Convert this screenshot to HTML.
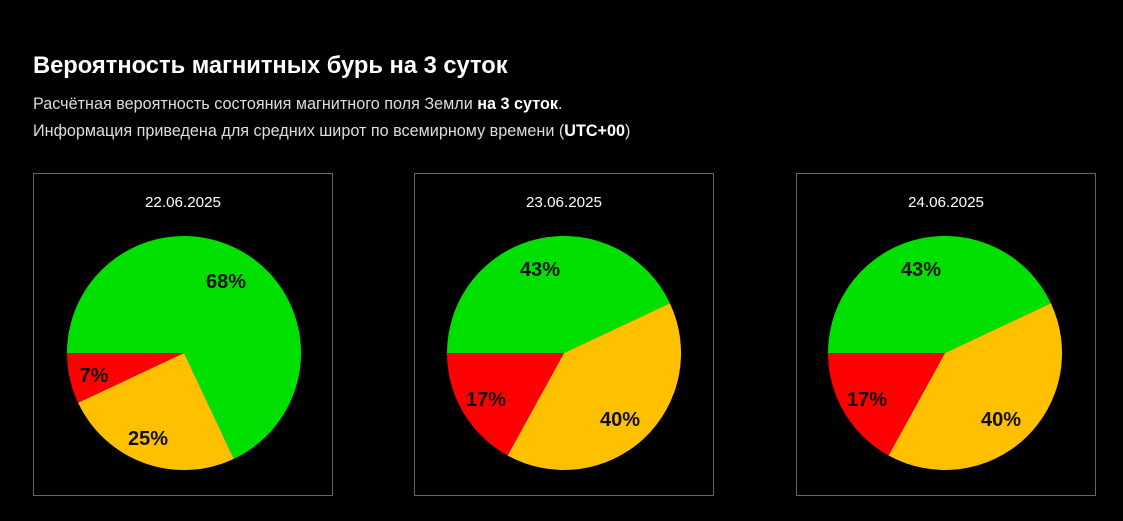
<!DOCTYPE html>
<html><head><meta charset="utf-8"><style>
html,body{margin:0;padding:0;background:#000;width:1123px;height:521px;overflow:hidden;font-family:"Liberation Sans",Arial,sans-serif;color:#fff}
</style></head><body>
<svg width="1123" height="521" xmlns="http://www.w3.org/2000/svg" font-family="Liberation Sans, Arial, sans-serif">
<text x="33" y="73" font-size="23.7" font-weight="bold" fill="#fff">Вероятность магнитных бурь на 3 суток</text>
<text x="33" y="109" font-size="16.2" fill="#ddd">Расчётная вероятность состояния магнитного поля Земли <tspan font-weight="bold" fill="#fff">на 3 суток</tspan>.</text>
<text x="33" y="136" font-size="16.2" fill="#ddd">Информация приведена для средних широт по всемирному времени (<tspan font-weight="bold" fill="#fff">UTC+00</tspan>)</text>

<rect x="33.5" y="173.5" width="299" height="322" fill="none" stroke="#666"/>
<rect x="414.5" y="173.5" width="299" height="322" fill="none" stroke="#666"/>
<rect x="796.5" y="173.5" width="299" height="322" fill="none" stroke="#666"/>

<g font-size="15.2" fill="#fff" text-anchor="middle">
<text x="183" y="207">22.06.2025</text>
<text x="564" y="207">23.06.2025</text>
<text x="946" y="207">24.06.2025</text>
</g>

<g transform="translate(184,353)">
<path d="M0 0 L-117 0 A117 117 0 1 1 49.8 105.9 Z" fill="#00e000"/>
<path d="M0 0 L49.8 105.9 A117 117 0 0 1 -105.9 49.8 Z" fill="#ffc000"/>
<path d="M0 0 L-105.9 49.8 A117 117 0 0 1 -117 0 Z" fill="#ff0000"/>
</g>
<g transform="translate(564,353)">
<path d="M0 0 L-117 0 A117 117 0 0 1 105.9 -49.8 Z" fill="#00e000"/>
<path d="M0 0 L105.9 -49.8 A117 117 0 0 1 -56.4 102.5 Z" fill="#ffc000"/>
<path d="M0 0 L-56.4 102.5 A117 117 0 0 1 -117 0 Z" fill="#ff0000"/>
</g>
<g transform="translate(945,353)">
<path d="M0 0 L-117 0 A117 117 0 0 1 105.9 -49.8 Z" fill="#00e000"/>
<path d="M0 0 L105.9 -49.8 A117 117 0 0 1 -56.4 102.5 Z" fill="#ffc000"/>
<path d="M0 0 L-56.4 102.5 A117 117 0 0 1 -117 0 Z" fill="#ff0000"/>
</g>

<g font-size="20" font-weight="bold" fill="#111" text-anchor="middle">
<text x="226" y="288">68%</text>
<text x="94" y="382">7%</text>
<text x="148" y="445">25%</text>
<text x="540" y="276">43%</text>
<text x="486" y="406">17%</text>
<text x="620" y="426">40%</text>
<text x="921" y="276">43%</text>
<text x="867" y="406">17%</text>
<text x="1001" y="426">40%</text>
</g>
</svg>
</body></html>
